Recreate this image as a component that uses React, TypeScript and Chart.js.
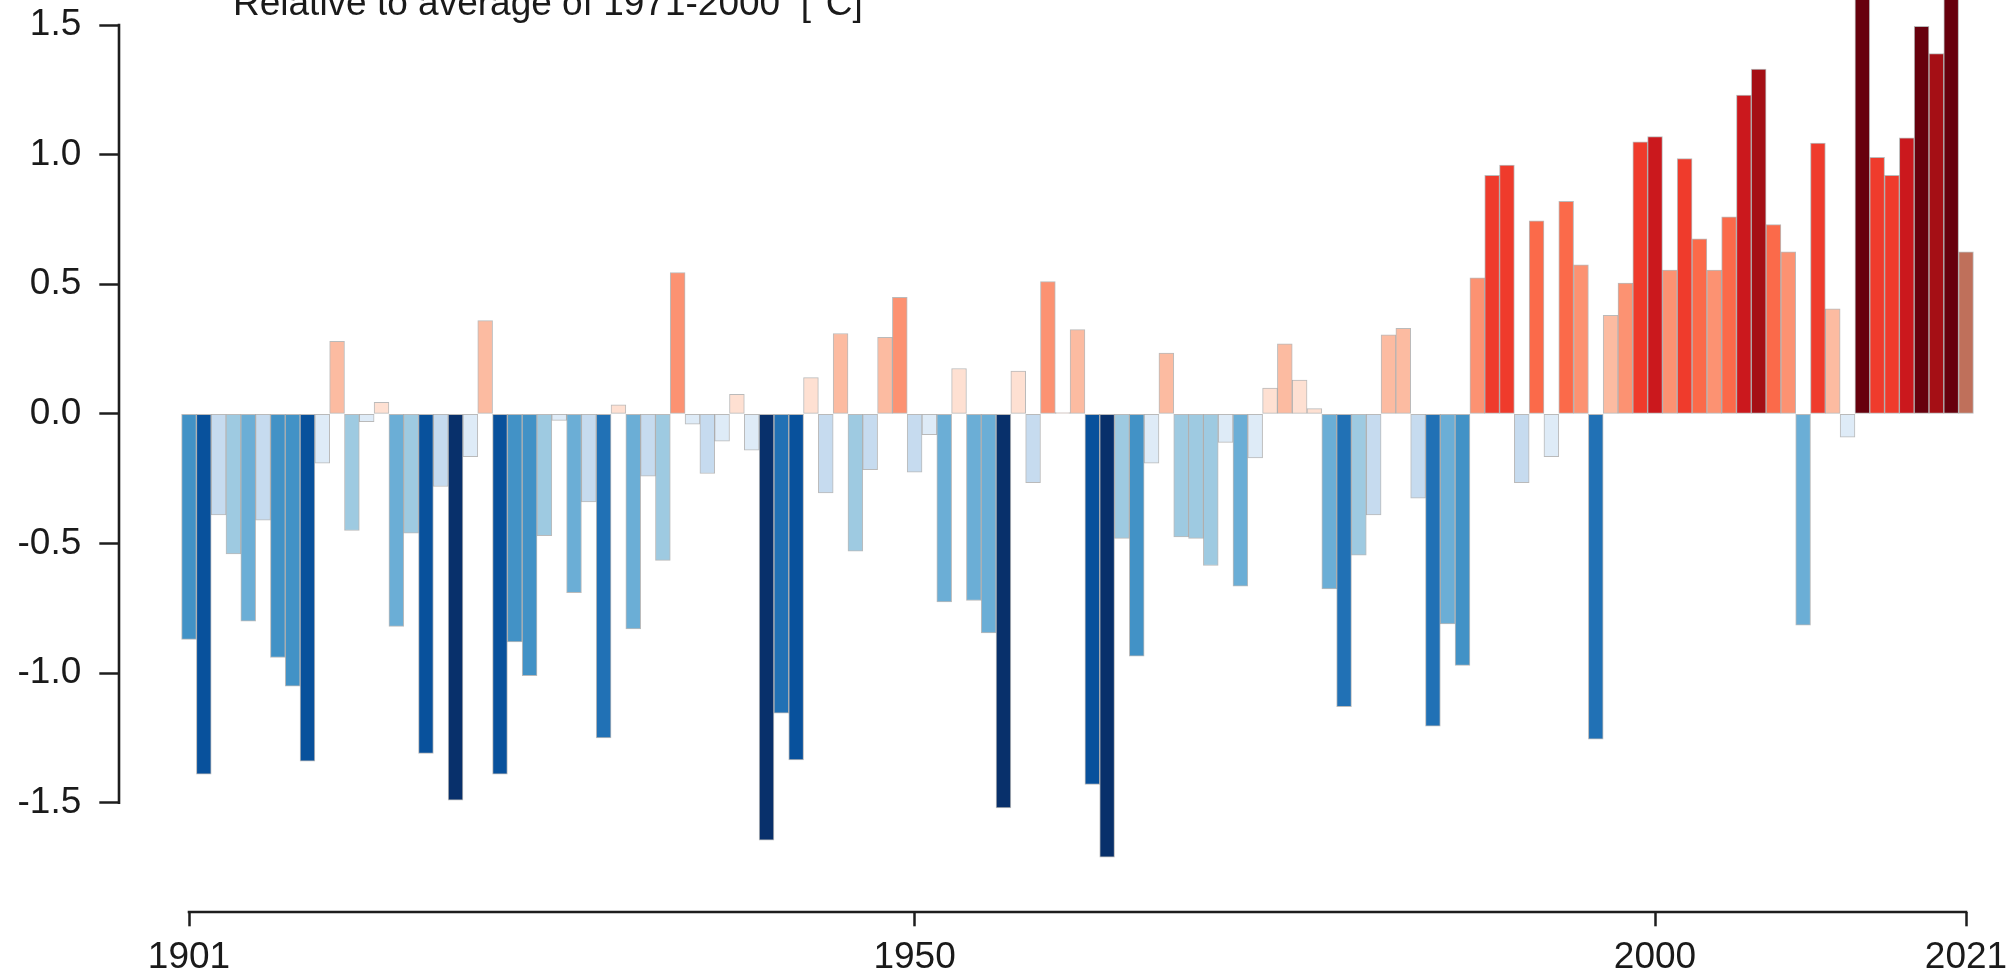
import React, { useEffect, useRef } from 'react';
import { Chart, registerables } from 'chart.js';

Chart.register(...registerables);

// Years 1901..2021 (categories)
const years: number[] = Array.from({ length: 121 }, (_, i) => 1901 + i);

// Annual temperature anomaly relative to 1971-2000 [°C]
const anomalies: number[] = [
  -0.87, -1.39, -0.39, -0.54, -0.80, -0.41, -0.94, -1.05, -1.34, -0.19, // 1901-1910
  0.28, -0.45, -0.03, 0.045, -0.82, -0.46, -1.31, -0.28, -1.49, -0.165, // 1911-1920
  0.36, -1.39, -0.88, -1.01, -0.47, -0.025, -0.69, -0.34, -1.25, 0.035, // 1921-1930
  -0.83, -0.24, -0.565, 0.545, -0.04, -0.23, -0.105, 0.075, -0.14, -1.645, // 1931-1940
  -1.155, -1.335, 0.14, -0.305, 0.31, -0.53, -0.215, 0.295, 0.45, -0.225, // 1941-1950
  -0.08, -0.725, 0.175, -0.72, -0.845, -1.52, 0.165, -0.265, 0.51, 0.005, // 1951-1960
  0.325, -1.43, -1.71, -0.48, -0.935, -0.19, 0.235, -0.475, -0.48, -0.585, // 1961-1970
  -0.11, -0.665, -0.17, 0.10, 0.27, 0.13, 0.02, -0.675, -1.13, -0.545, // 1971-1980
  -0.39, 0.305, 0.33, -0.325, -1.205, -0.81, -0.97, 0.525, 0.92, 0.96, // 1981-1990
  -0.265, 0.745, -0.165, 0.82, 0.575, -1.255, 0.38, 0.505, 1.05, 1.07, // 1991-2000
  0.555, 0.985, 0.675, 0.555, 0.76, 1.23, 1.33, 0.73, 0.625, -0.815, // 2001-2010
  1.045, 0.405, -0.09, 1.75, 0.99, 0.92, 1.065, 1.495, 1.39, 1.80, // 2011-2020
  0.625, // 2021
];

const xTickYears: number[] = [1901, 1950, 2000, 2021];
const yTickValues: number[] = [-1.5, -1.0, -0.5, 0.0, 0.5, 1.0, 1.5];
const titleText = 'Relative to average of 1971-2000  [°C]';
const provisionalYear = 2021;

const blues = ['#deebf7', '#c6dbef', '#9ecae1', '#6baed6', '#4292c6', '#2171b5', '#08519c', '#08306b'];
const reds = ['#fee0d2', '#fcbba1', '#fc9272', '#fb6a4a', '#ef3b2c', '#cb181d', '#a50f15', '#67000d'];
const classStep = 0.2125;

function colorFor(year: number, v: number): string {
  if (year === provisionalYear) return '#bf705b';
  const k = Math.min(7, Math.floor(Math.abs(v) / classStep));
  return v < 0 ? blues[k] : reds[k];
}

const FONT_FAMILY = '"Liberation Sans", Arial, Helvetica, sans-serif';
const TEXT_COLOR = '#1a1a1a';
const AXIS_COLOR = '#1e1e1e';

const rAxesPlugin = {
  id: 'rAxes',
  afterDraw(chart: any) {
    const { ctx, chartArea, scales } = chart;
    const xs = scales.x;
    const ys = scales.y;
    ctx.save();
    ctx.strokeStyle = AXIS_COLOR;
    ctx.lineWidth = 2.6;
    ctx.lineCap = 'square';
    ctx.beginPath();
    const yb = Math.round(chartArea.bottom);
    ctx.moveTo(xs.getPixelForValue(xTickYears[0]), yb);
    ctx.lineTo(xs.getPixelForValue(xTickYears[xTickYears.length - 1]), yb);
    const xl = Math.round(chartArea.left);
    ctx.moveTo(xl, ys.getPixelForValue(yTickValues[yTickValues.length - 1]));
    ctx.lineTo(xl, ys.getPixelForValue(yTickValues[0]));
    ctx.stroke();

    ctx.fillStyle = TEXT_COLOR;
    ctx.font = `37px ${FONT_FAMILY}`;
    ctx.textBaseline = 'alphabetic';
    ctx.textAlign = 'left';
    ctx.fillText(titleText, 233, 15);
    ctx.restore();
  },
};

export default function App() {
  const canvasRef = useRef<HTMLCanvasElement | null>(null);

  useEffect(() => {
    document.body.style.margin = '0';
    const canvas = canvasRef.current;
    if (!canvas) return;

    const points = years.map((yr, i) => ({ x: yr, y: anomalies[i] }));

    const chart = new Chart(canvas, {
      type: 'bar',
      data: {
        datasets: [
          {
            data: points as any,
            backgroundColor: (c: any) => colorFor(years[c.dataIndex], anomalies[c.dataIndex]),
            borderColor: 'rgba(130,130,130,0.55)',
            borderWidth: 1,
            borderSkipped: false,
            barPercentage: 1.0,
            categoryPercentage: 1.0,
            clip: false as any,
          },
        ],
      },
      plugins: [rAxesPlugin],
      options: {
        animation: false,
        responsive: false,
        maintainAspectRatio: false,
        devicePixelRatio: 1,
        layout: { padding: { left: 0, right: 42, top: 0, bottom: 0 } },
        plugins: {
          legend: { display: false },
          tooltip: { enabled: false },
          title: { display: false },
        },
        scales: {
          x: {
            type: 'linear',
            min: 1896.293,
            max: 2021,
            offset: false,
            border: { display: false },
            grid: {
              display: true,
              offset: false,
              drawOnChartArea: false,
              drawTicks: true,
              tickLength: 14,
              tickWidth: 2.5,
              tickColor: AXIS_COLOR,
            },
            afterBuildTicks: (scale: any) => {
              scale.ticks = xTickYears.map((v) => ({ value: v }));
            },
            afterFit: (scale: any) => {
              scale.height = 60.7;
              scale.paddingLeft = 0;
              scale.paddingRight = 0;
            },
            ticks: {
              autoSkip: false,
              maxRotation: 0,
              minRotation: 0,
              padding: 9,
              color: TEXT_COLOR,
              font: { family: FONT_FAMILY, size: 37 },
              callback: (v: any) => String(v),
            },
          },
          y: {
            type: 'linear',
            min: -1.9229,
            max: 1.5968,
            border: { display: false },
            grid: {
              display: true,
              offset: false,
              drawOnChartArea: false,
              drawTicks: true,
              tickLength: 20,
              tickWidth: 2.5,
              tickColor: AXIS_COLOR,
            },
            afterBuildTicks: (scale: any) => {
              scale.ticks = yTickValues.map((v) => ({ value: v }));
            },
            afterFit: (scale: any) => {
              scale.width = 119.3;
              scale.paddingTop = 0;
              scale.paddingBottom = 0;
            },
            ticks: {
              padding: 18,
              color: TEXT_COLOR,
              font: { family: FONT_FAMILY, size: 37 },
              callback: (v: any) => Number(v).toFixed(1),
            },
          },
        },
      },
    });

    return () => {
      chart.destroy();
    };
  }, []);

  return (
    <div style={{ position: 'fixed', left: 0, top: 0, width: 2008, height: 973, background: '#ffffff' }}>
      <canvas ref={canvasRef} width={2008} height={973} style={{ display: 'block', width: 2008, height: 973 }} />
    </div>
  );
}
